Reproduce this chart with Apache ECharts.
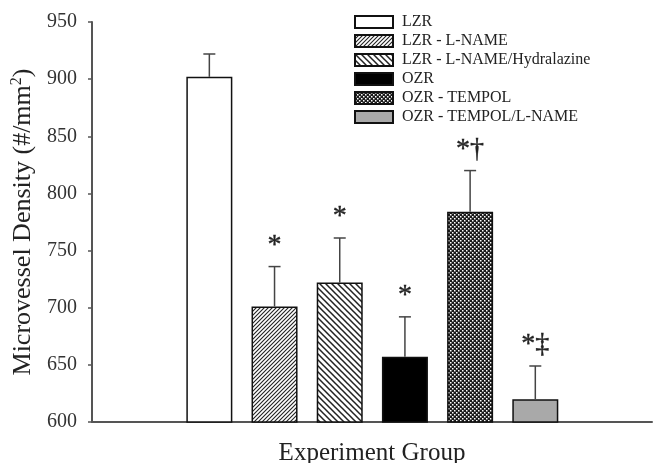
<!DOCTYPE html>
<html>
<head>
<meta charset="utf-8">
<script src="https://cdn.jsdelivr.net/npm/echarts@6/dist/echarts.min.js"></script>
<style>html,body{margin:0;padding:0;background:#fff}#c{width:656px;height:463px}</style>
</head>
<body>
<div id="c"></div>
<script>
const categories = ['LZR', 'LZR - L-NAME', 'LZR - L-NAME/Hydralazine', 'OZR', 'OZR - TEMPOL', 'OZR - TEMPOL/L-NAME'];
const values = [902, 701, 722, 657, 784, 620];
const errors = [20, 35, 39, 35, 36, 29];
const marks = ['', '*', '*', '*', '*\u2020', '*\u2021'];
const yMin = 600, yMax = 950, yStep = 50;

function pattern(size, draw) {
  const c = document.createElement('canvas');
  c.width = size; c.height = size;
  const g = c.getContext('2d');
  draw(g, size);
  return { image: c, repeat: 'repeat' };
}
const hatchFwd = pattern(4, (g, s) => {
  g.fillStyle = '#fff'; g.fillRect(0, 0, s, s);
  g.strokeStyle = '#222'; g.lineWidth = 1.1;
  g.beginPath();
  g.moveTo(-1, s + 1); g.lineTo(s + 1, -1);
  g.moveTo(-1, 1); g.lineTo(1, -1);
  g.moveTo(s - 1, s + 1); g.lineTo(s + 1, s - 1);
  g.stroke();
});
const hatchBack = pattern(6, (g, s) => {
  g.fillStyle = '#fff'; g.fillRect(0, 0, s, s);
  g.strokeStyle = '#222'; g.lineWidth = 1.5;
  g.beginPath();
  g.moveTo(-1, -1); g.lineTo(s + 1, s + 1);
  g.moveTo(s - 1, -1); g.lineTo(s + 1, 1);
  g.moveTo(-1, s - 1); g.lineTo(1, s + 1);
  g.stroke();
});
const dots = pattern(4, (g, s) => {
  g.fillStyle = '#1a1a1a'; g.fillRect(0, 0, s, s);
  g.fillStyle = '#fff';
  g.fillRect(0, 0, 1.5, 1.5);
  g.fillRect(2, 2, 1.5, 1.5);
});
const fills = ['#ffffff', hatchFwd, hatchBack, '#000000', dots, '#a9a9a9'];

const offset = 1.8;
const serif = '"Liberation Serif", "DejaVu Serif", serif';

const barSeries = categories.map((name, i) => ({
  name: name,
  type: 'bar',
  barWidth: 46,
  barGap: '-100%',
  data: [[i + offset, values[i]]],
  itemStyle: { color: fills[i], borderColor: '#111', borderWidth: 1.5 },
  z: 2
}));

const errSeries = {
  type: 'custom',
  data: values.map((v, i) => [i + offset, v, errors[i], i]),
  z: 5,
  renderItem: function (params, api) {
    const x = api.value(0), v = api.value(1), e = api.value(2), idx = api.value(3);
    const p0 = api.coord([x, v]);
    const p1 = api.coord([x, v + e]);
    const st = { stroke: '#444', lineWidth: 1.5 };
    return {
      type: 'group',
      children: [
        { type: 'line', shape: { x1: p0[0], y1: p0[1], x2: p1[0], y2: p1[1] }, style: st },
        { type: 'line', shape: { x1: p1[0] - 6, y1: p1[1], x2: p1[0] + 6, y2: p1[1] }, style: st },
        { type: 'text', style: { text: marks[idx], x: p1[0], y: p1[1] - 7, align: 'center', verticalAlign: 'bottom', font: '28px ' + serif, fill: '#222', stroke: '#222', lineWidth: 0.4 } }
      ]
    };
  }
};

const chart = echarts.init(document.getElementById('c'));
chart.setOption({
  animation: false,
  backgroundColor: '#fff',
  grid: { left: 92, right: 4, top: 22, bottom: 41, containLabel: false, outerBoundsMode: 'none' },
  legend: {
    orient: 'vertical',
    left: 354, top: 14, padding: 0,
    itemWidth: 38, itemHeight: 12, itemGap: 3,
    icon: 'rect',
    data: categories,
    textStyle: { fontFamily: serif, fontSize: 16, lineHeight: 16, color: '#222', padding: [0, 0, 0, 4] }
  },
  xAxis: {
    type: 'value', min: 0, max: 8.59,
    name: 'Experiment Group', nameLocation: 'middle', nameGap: 19,
    nameTextStyle: { fontFamily: serif, fontSize: 25, color: '#222' },
    axisLine: { show: true, onZero: false, lineStyle: { color: '#555', width: 2 } },
    axisTick: { show: false }, axisLabel: { show: false }, splitLine: { show: false }
  },
  yAxis: {
    type: 'value', min: yMin, max: yMax, interval: yStep,
    name: 'Microvessel Density (#/mm{s|2})', nameLocation: 'middle', nameGap: 48,
    nameTextStyle: { fontFamily: serif, fontSize: 26, color: '#222', rich: { s: { fontFamily: serif, fontSize: 16, verticalAlign: 'top', color: '#222', padding: [0, 0, 13, 0] } } },
    axisLine: { show: true, lineStyle: { color: '#555', width: 2 } },
    axisTick: { show: true, length: 4, lineStyle: { color: '#555', width: 1.5 } },
    axisLabel: { fontFamily: serif, fontSize: 20, color: '#333', margin: 15 },
    splitLine: { show: false }
  },
  series: barSeries.concat([errSeries])
});
</script>
</body>
</html>
